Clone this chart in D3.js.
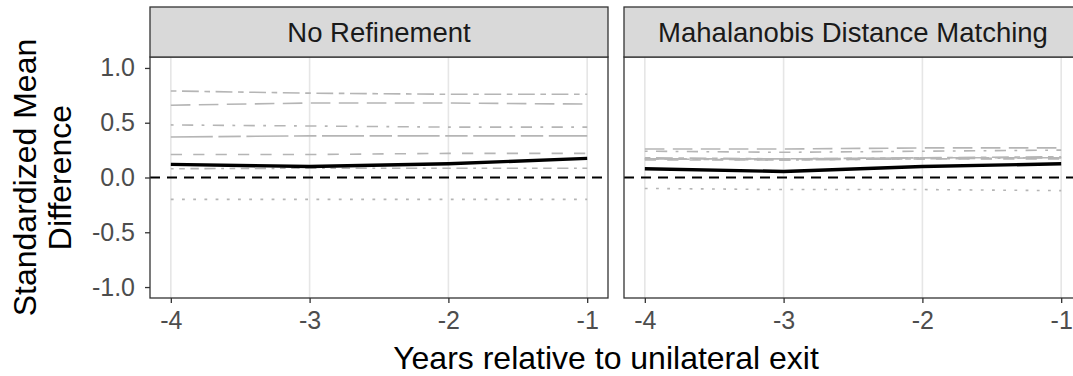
<!DOCTYPE html>
<html>
<head>
<meta charset="utf-8">
<script src="https://cdn.jsdelivr.net/npm/d3@7"></script>
<style>
  html, body { margin: 0; padding: 0; background: #ffffff; }
  svg { display: block; font-family: "Liberation Sans", Arial, Helvetica, sans-serif; }
</style>
</head>
<body>
<svg id="chart" width="1073" height="376"></svg>
<script>
// Event-time axis and facet labels
const years = [-4, -3, -2, -1];
const facetTitles = ["No Refinement", "Mahalanobis Distance Matching"];
const yTickValues = [-1, -0.5, 0, 0.5, 1];
const yTickLabels = ["-1.0", "-0.5", "0.0", "0.5", "1.0"];
const xTickLabels = ["-4", "-3", "-2", "-1"];

// Standardized mean differences per covariate (grey lines), one array per facet
const cov1NoRef = [0.79, 0.77, 0.76, 0.76];
const cov2NoRef = [0.66, 0.68, 0.68, 0.67];
const cov3NoRef = [0.48, 0.47, 0.46, 0.46];
const cov4NoRef = [0.37, 0.38, 0.38, 0.38];
const cov5NoRef = [0.21, 0.21, 0.22, 0.22];
const cov6NoRef = [0.08, 0.085, 0.085, 0.085];
const cov7NoRef = [-0.20, -0.20, -0.20, -0.20];

const cov1Maha = [0.18, 0.17, 0.18, 0.19];
const cov2Maha = [0.26, 0.26, 0.27, 0.27];
const cov3Maha = [0.24, 0.23, 0.24, 0.25];
const cov4Maha = [0.17, 0.17, 0.18, 0.18];
const cov5Maha = [0.16, 0.16, 0.17, 0.17];
const cov6Maha = [0.17, 0.16, 0.17, 0.18];
const cov7Maha = [-0.10, -0.11, -0.11, -0.12];

// Average across covariates (black line)
const meanNoRef = [0.12, 0.10, 0.125, 0.175];
const meanMaha = [0.08, 0.055, 0.10, 0.125];

// Dash patterns for the covariate lines (ggplot linetype palette)
const covLinetypes = ["2262", "73", "1343", "F282", "44", "12223242", "13"];

const facetData = [
  { covs: [cov1NoRef, cov2NoRef, cov3NoRef, cov4NoRef, cov5NoRef, cov6NoRef, cov7NoRef], mean: meanNoRef },
  { covs: [cov1Maha, cov2Maha, cov3Maha, cov4Maha, cov5Maha, cov6Maha, cov7Maha], mean: meanMaha }
];

const svg = d3.select("#chart");

const panelTop = 57, panelBottom = 298, stripTop = 7;
const panelLefts = [150, 624];
const panelWidth = 458;
const dashUnit = 2.8;

function dashArray(code) {
  return code.split("").map(c => parseInt(c, 16) * dashUnit).join(",");
}

const y = d3.scaleLinear().domain([-1.1, 1.1]).range([panelBottom, panelTop]);

facetTitles.forEach((title, i) => {
  const left = panelLefts[i];
  const x = d3.scaleLinear().domain([-4.15, -0.85]).range([left, left + panelWidth]);
  const g = svg.append("g");

  const clipId = "clip" + i;
  svg.append("clipPath").attr("id", clipId)
    .append("rect").attr("x", left).attr("y", panelTop)
    .attr("width", panelWidth).attr("height", panelBottom - panelTop);

  // panel background
  g.append("rect").attr("x", left).attr("y", panelTop)
    .attr("width", panelWidth).attr("height", panelBottom - panelTop)
    .attr("fill", "#ffffff");

  // vertical major grid
  g.selectAll(".vgrid").data(years).enter().append("line")
    .attr("x1", d => x(d)).attr("x2", d => x(d))
    .attr("y1", panelTop).attr("y2", panelBottom)
    .attr("stroke", "#e6e6e6").attr("stroke-width", 1.6);

  const plot = g.append("g").attr("clip-path", `url(#${clipId})`);
  const line = d3.line().x((d, k) => x(years[k])).y(d => y(d));

  // covariate lines
  facetData[i].covs.forEach((vals, k) => {
    plot.append("path").datum(vals)
      .attr("d", line)
      .attr("fill", "none")
      .attr("stroke", "#b5b5b5")
      .attr("stroke-width", 1.6)
      .attr("stroke-dasharray", dashArray(covLinetypes[k]));
  });

  // zero reference line
  plot.append("line")
    .attr("x1", left).attr("x2", left + panelWidth)
    .attr("y1", y(0)).attr("y2", y(0))
    .attr("stroke", "#000000").attr("stroke-width", 2.2)
    .attr("stroke-dasharray", "10,7");

  // mean line
  plot.append("path").datum(facetData[i].mean)
    .attr("d", line)
    .attr("fill", "none")
    .attr("stroke", "#000000")
    .attr("stroke-width", 3.4)
    .attr("stroke-linejoin", "round");

  // panel border
  g.append("rect").attr("x", left).attr("y", panelTop)
    .attr("width", panelWidth).attr("height", panelBottom - panelTop)
    .attr("fill", "none").attr("stroke", "#333333").attr("stroke-width", 1.3);

  // strip
  g.append("rect").attr("x", left).attr("y", stripTop)
    .attr("width", panelWidth).attr("height", panelTop - stripTop)
    .attr("fill", "#d9d9d9").attr("stroke", "#333333").attr("stroke-width", 1.3);
  g.append("text")
    .attr("x", left + panelWidth / 2).attr("y", (stripTop + panelTop) / 2)
    .attr("text-anchor", "middle").attr("dominant-baseline", "central")
    .attr("font-size", 27.5).attr("fill", "#1a1a1a")
    .text(title);

  // x axis
  const xAxis = d3.axisBottom(x).tickValues(years)
    .tickFormat((d, k) => xTickLabels[k]).tickSize(5).tickPadding(8.5);
  const xa = svg.append("g").attr("transform", `translate(0,${panelBottom})`).call(xAxis);
  xa.select(".domain").remove();
  xa.selectAll(".tick line").attr("stroke", "#333333").attr("stroke-width", 1.3);
  xa.selectAll(".tick text").attr("font-size", 25).attr("fill", "#4d4d4d")
    .attr("font-family", "'Liberation Sans', Arial, sans-serif");

  // y axis on first facet only
  if (i === 0) {
    const yAxis = d3.axisLeft(y).tickValues(yTickValues)
      .tickFormat((d, k) => yTickLabels[k]).tickSize(5).tickPadding(10);
    const ya = svg.append("g").attr("transform", `translate(${left},0)`).call(yAxis);
    ya.select(".domain").remove();
    ya.selectAll(".tick line").attr("stroke", "#333333").attr("stroke-width", 1.3);
    ya.selectAll(".tick text").attr("font-size", 25).attr("fill", "#4d4d4d")
      .attr("font-family", "'Liberation Sans', Arial, sans-serif");
  }
});

// axis titles
svg.append("text")
  .attr("x", 606).attr("y", 369)
  .attr("text-anchor", "middle")
  .attr("font-size", 32).attr("fill", "#000000")
  .text("Years relative to unilateral exit");

const yTitle = svg.append("text")
  .attr("transform", "translate(36,177.5) rotate(-90)")
  .attr("text-anchor", "middle")
  .attr("font-size", 32).attr("fill", "#000000");
yTitle.append("tspan").attr("x", 0).attr("y", 0).text("Standardized Mean");
yTitle.append("tspan").attr("x", 0).attr("y", 35).text("Difference");
</script>
</body>
</html>
